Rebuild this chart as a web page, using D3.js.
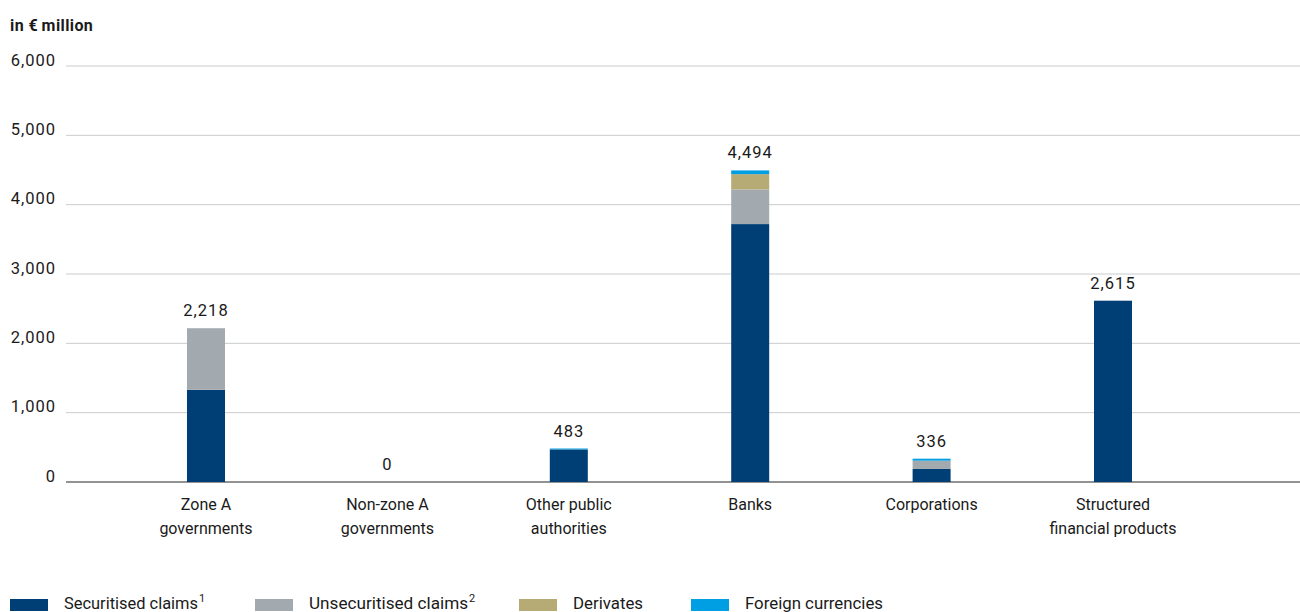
<!DOCTYPE html>
<html>
<head>
<meta charset="utf-8">
<script src="https://cdn.jsdelivr.net/npm/d3@7"></script>
<style>
  body { margin: 0; background: #fff; }
  text { font-family: Roboto, "Liberation Sans", sans-serif; fill: #1a1a1a; }
</style>
</head>
<body>
<svg id="chart" width="1300" height="612"></svg>
<script>
const categories = [
  ["Zone A", "governments"],
  ["Non-zone A", "governments"],
  ["Other public", "authorities"],
  ["Banks"],
  ["Corporations"],
  ["Structured", "financial products"]
];
const seriesNames = ["Securitised claims", "Unsecuritised claims", "Derivates", "Foreign currencies"];
const seriesSup = ["1", "2", "", ""];
const securitised   = [1330, 0, 470, 3720, 188, 2615];
const unsecuritised = [888, 0, 0, 500, 120, 0];
const derivates     = [0, 0, 0, 220, 0, 0];
const foreign       = [0, 0, 13, 54, 28, 0];
const totals        = [2218, 0, 483, 4494, 336, 2615];
const totalLabels   = ["2,218", "0", "483", "4,494", "336", "2,615"];
const yTicks = [0, 1000, 2000, 3000, 4000, 5000, 6000];
const colors = ["#003f75", "#a3aaaf", "#b6aa75", "#009fe3"];

const svg = d3.select("#chart");
const keys = categories.map((c, i) => i);
const x = d3.scalePoint().domain(keys).range([206, 1113]);
const y = d3.scaleLinear().domain([0, 6000]).range([482, 66]);
const barW = 38;

// gridlines
svg.append("g").selectAll("line").data(yTicks).join("line")
  .attr("x1", 66).attr("x2", 1300)
  .attr("y1", d => y(d)).attr("y2", d => y(d))
  .attr("stroke", d => d === 0 ? "#6e6e6e" : "#c9cbcd")
  .attr("stroke-width", d => d === 0 ? 1.5 : 1);

// y labels
const yAxis = d3.axisLeft(y).tickValues(yTicks).tickSize(0).tickPadding(0)
  .tickFormat(d3.format(","));
const ya = svg.append("g").attr("transform", "translate(56,0)").call(yAxis);
ya.select(".domain").remove();
ya.selectAll("text").attr("dy", "-0.05em").style("font-size", "16.5px")
  .style("letter-spacing", "1px")
  .style("font-family", "Roboto, 'Liberation Sans', sans-serif").attr("fill", "#1a1a1a");

// title
svg.append("text").attr("x", 10).attr("y", 31).style("font-size", "16px")
  .style("font-weight", "bold").style("letter-spacing", "0.4px").text("in €\u2009million");

// stacked bars
const table = keys.map(i => ({ i, s0: securitised[i], s1: unsecuritised[i], s2: derivates[i], s3: foreign[i] }));
const stack = d3.stack().keys(["s0", "s1", "s2", "s3"])(table);
svg.append("g").selectAll("g").data(stack).join("g")
  .attr("fill", (d, k) => colors[k])
  .selectAll("rect").data(d => d).join("rect")
  .attr("x", d => x(d.data.i) - barW / 2)
  .attr("width", barW)
  .attr("y", d => y(d[1]))
  .attr("height", d => Math.max(0, y(d[0]) - y(d[1])));

// value labels
svg.append("g").selectAll("text").data(keys).join("text")
  .attr("x", i => x(i)).attr("y", i => y(totals[i]) - 12)
  .attr("text-anchor", "middle").style("font-size", "16.5px")
  .style("letter-spacing", "1px")
  .text(i => totalLabels[i]);

// category labels
const cg = svg.append("g").selectAll("text").data(keys).join("text")
  .attr("text-anchor", "middle").style("font-size", "16px");
cg.selectAll("tspan").data(i => categories[i].map(t => ({ i, t }))).join("tspan")
  .attr("x", d => x(d.i)).attr("y", (d, j) => 510 + j * 24)
  .text(d => d.t);

// legend
const legX = [10, 255, 519, 691];
const legW = [134, 159, 70, 138];
const lg = svg.append("g").selectAll("g").data(seriesNames).join("g")
  .attr("transform", (d, k) => `translate(${legX[k]},0)`);
lg.append("rect").attr("x", 0).attr("y", 599).attr("width", 38).attr("height", 12)
  .attr("fill", (d, k) => colors[k]);
lg.append("text").attr("x", 54).attr("y", 609)
  .style("font-size", "16px")
  .attr("textLength", (d, k) => legW[k])
  .attr("lengthAdjust", "spacingAndGlyphs")
  .text(d => d);
lg.filter((d, k) => seriesSup[k] !== "").append("text")
  .attr("x", (d, k) => 54 + legW[k] + 1).attr("y", 602)
  .style("font-size", "11px").text((d, k) => seriesSup[k]);
</script>
</body>
</html>
